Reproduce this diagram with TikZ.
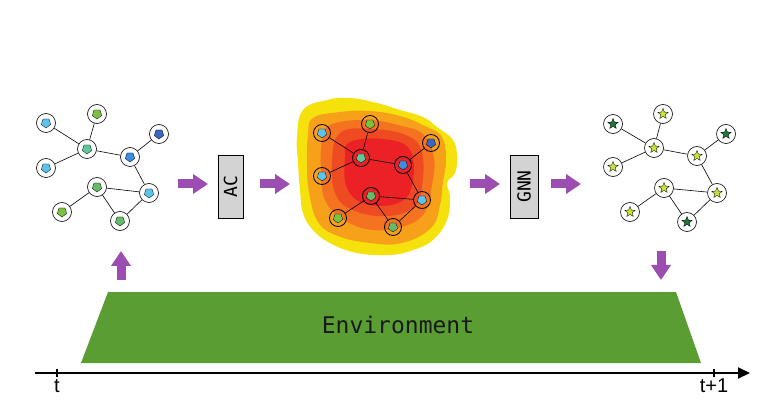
\documentclass[tikz,border=0pt]{standalone}
\usepackage{fontspec}
\setsansfont{Liberation Sans}
\newfontfamily\envmono{DejaVu Sans Mono}
\usepackage{tikz}
\usetikzlibrary{shapes.geometric,arrows.meta}

\definecolor{arrowpurple}{HTML}{9B4DB2}
\definecolor{envgreen}{HTML}{5A9E33}
\definecolor{boxgray}{HTML}{D3D3D3}
\definecolor{heatA}{HTML}{F5E10C}
\definecolor{heatB}{HTML}{F7A11A}
\definecolor{heatC}{HTML}{F47220}
\definecolor{heatD}{HTML}{EF4B23}
\definecolor{heatE}{HTML}{EC2126}
\definecolor{cblue}{HTML}{5CC3EC}
\definecolor{cmid}{HTML}{3D8EE0}
\definecolor{cdark}{HTML}{3A67C4}
\definecolor{cmint}{HTML}{5EC99A}
\definecolor{cgreen}{HTML}{66BB6A}
\definecolor{cyell}{HTML}{7CC242}
\definecolor{slight}{HTML}{C8E03C}
\definecolor{sdark}{HTML}{22753A}

\begin{document}
\begin{tikzpicture}
[x=1pt,y=-1pt,
 vtx/.style={circle,draw,fill=white,minimum size=19pt,inner sep=0pt,line width=0.6pt},
 hvtx/.style={circle,draw,minimum size=17pt,inner sep=0pt,line width=0.8pt},
 pent/.style={regular polygon,regular polygon sides=5,shape border rotate=180,draw,line width=0.3pt,minimum size=10pt,inner sep=0pt},
 starmark/.style={star,star points=5,star point ratio=2.3,draw,line width=0.3pt,minimum size=11pt,inner sep=0pt},
 link/.style={line width=0.6pt},
 blockarrow/.style={arrowpurple,line width=9pt,-{Triangle[length=15pt,width=19pt]}},
 stage/.style={draw,fill=boxgray,line width=0.8pt,rotate=90,minimum height=25pt,minimum width=63pt,inner sep=0pt,font=\envmono\fontsize{18}{18}\selectfont}]
\useasboundingbox (0,0) rectangle (774,406);

% heat map behind the middle graph
\fill[heatA] plot[smooth cycle,tension=0.7] coordinates {(303,110) (327,100) (350,98) (377,103) (400,110) (423,117) (437,127) (453,140) (457,157) (455,173) (447,183) (450,197) (447,220) (433,240) (413,250) (390,255) (357,253) (330,243) (313,230) (303,213) (300,190) (298,163) (297,137)};
\fill[heatB] plot[smooth cycle,tension=0.7] coordinates {(313,118) (340,112) (370,111) (400,116) (425,126) (442,137) (446,160) (443,182) (440,205) (431,228) (402,243) (370,243) (338,236) (318,222) (309,192) (307,163) (308,135)};
\fill[heatC] plot[smooth cycle,tension=0.7] coordinates {(330,125) (367,120) (402,126) (424,135) (434,158) (432,185) (425,212) (405,226) (373,230) (344,220) (325,200) (321,170) (322,142)};
\fill[heatD] plot[smooth cycle,tension=0.7] coordinates {(340,133) (373,129) (408,136) (422,153) (422,186) (414,207) (388,216) (355,211) (336,195) (332,163)};
\fill[heatE] plot[smooth cycle,tension=0.7] coordinates {(350,142) (383,139) (410,150) (412,185) (398,203) (366,204) (347,188) (345,158)};

% graph at time t
\foreach \n/\x/\y/\c in {1/46/123/cblue,2/97/114/cyell,3/87/149/cmint,4/46/168/cblue,5/159/134/cdark,
  6/130/157/cmid,7/97/187/cgreen,8/149/193/cblue,9/62/212/cyell,10/120/221/cgreen}
{
  \node[vtx] (l\n) at (\x,\y) {};
  \node[pent,fill=\c] at (l\n) {};
}

% graph with attention
\foreach \n/\x/\y/\c in {1/322/133/cblue,2/370/124/cyell,3/361/158/cmint,4/322/176/cblue,5/431/143/cdark,
  6/403/165/cmid,7/371/196/cgreen,8/422/200/cblue,9/338/218/cyell,10/393/227/cgreen}
{
  \node[hvtx] (m\n) at (\x,\y) {};
  \node[pent,fill=\c] at (m\n) {};
}

% graph at time t+1
\foreach \n/\x/\y/\c in {1/613/124/sdark,2/663/114/slight,3/654/148/slight,4/613/167/slight,5/726/134/sdark,
  6/697/156/slight,7/664/188/slight,8/717/193/slight,9/630/212/slight,10/687/222/sdark}
{
  \node[vtx] (r\n) at (\x,\y) {};
  \node[starmark,fill=\c] at (r\n) {};
}

\foreach \g in {l,m,r}
  \foreach \from/\to in {1/3,2/3,4/3,3/6,6/5,6/8,7/8,7/9,7/10,10/8}
    \draw[link] (\g\from) -- (\g\to);

% stages
\node[stage] (ac) at (230.5,186.5) {AC};
\node[stage,minimum height=28pt] (gnn) at (524,186.5) {GNN};

\coordinate (a1s) at (178,184); \coordinate (a1e) at (208,184);
\coordinate (a2s) at (260,184); \coordinate (a2e) at (290,184);
\coordinate (a3s) at (470,184); \coordinate (a3e) at (500,184);
\coordinate (a4s) at (551,184); \coordinate (a4e) at (581,184);
\coordinate (ups) at (121,280); \coordinate (upe) at (121,251);
\coordinate (dns) at (661,251); \coordinate (dne) at (661,280);
\foreach \s/\e in {a1s/a1e,a2s/a2e,a3s/a3e,a4s/a4e,ups/upe,dns/dne}
  \draw[blockarrow] (\s) -- (\e);

% environment
\fill[envgreen] (108,292) -- (676,292) -- (701,363) -- (81,363) -- cycle;
\node[font=\envmono\fontsize{23}{23}\selectfont,text=black!90] (env) at (398,325) {Environment};

% time axis
\coordinate (ax0) at (35,373);
\coordinate (ax1) at (750,373);
\draw[line width=2pt,-{Triangle[length=12pt,width=11pt]}] (ax0) -- (ax1);
\coordinate (t0) at (57,373);
\coordinate (t1) at (714,373);
\draw[line width=2pt] ([yshift=-4pt]t0) -- ([yshift=4pt]t0);
\draw[line width=2pt] ([yshift=-4pt]t1) -- ([yshift=4pt]t1);
\node[font=\sffamily\fontsize{20}{20}\selectfont,anchor=north,inner sep=1pt] (lt0) at ([yshift=-5pt]t0) {t};
\node[font=\sffamily\fontsize{20}{20}\selectfont,anchor=north,inner sep=1pt] (lt1) at ([yshift=-5pt]t1) {t+1};

\end{tikzpicture}
\end{document}
